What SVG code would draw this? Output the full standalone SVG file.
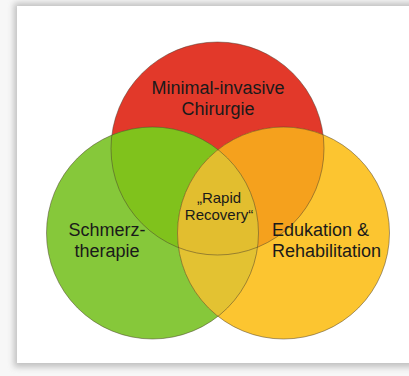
<svg xmlns="http://www.w3.org/2000/svg" width="409" height="376" viewBox="0 0 409 376">
  <style>
    .lbl { font-family: "Liberation Sans", Arial, sans-serif; font-size: 18px; fill: #1a1a1a; }
    .core { font-family: "Liberation Sans", Arial, sans-serif; font-size: 15px; fill: #1a1a1a; text-anchor: middle; }
    .ring { fill: none; stroke: #4a3d2c; stroke-width: 0.9; }
  </style>
  <defs>
    <filter id="shadow" x="-10%" y="-10%" width="120%" height="120%">
      <feGaussianBlur stdDeviation="3"/>
    </filter>
    <clipPath id="clipRed"><circle cx="217.5" cy="148.5" r="106.5"/></clipPath>
    <clipPath id="clipGreen"><circle cx="152.5" cy="233" r="106"/></clipPath>
    <clipPath id="clipYellow"><circle cx="283.5" cy="233" r="106"/></clipPath>
  </defs>

  <!-- page and card -->
  <rect width="409" height="376" fill="#f7f7f7"/>
  <rect x="14" y="3" width="420" height="364" fill="#9a9a9a" filter="url(#shadow)" opacity="0.6"/>
  <rect x="17" y="6" width="400" height="357" fill="#ffffff"/>

  <!-- circles -->
  <g id="node-chirurgie">
    <circle cx="217.5" cy="148.5" r="106.5" fill="#e2392a"/>
  </g>
  <g id="node-schmerztherapie">
    <circle cx="152.5" cy="233" r="106" fill="#86c83a"/>
  </g>
  <g id="node-edukation">
    <circle cx="283.5" cy="233" r="106" fill="#fcc530"/>
  </g>

  <!-- overlap regions -->
  <g id="overlaps">
    <circle cx="217.5" cy="148.5" r="106.5" fill="#80c21c" clip-path="url(#clipGreen)"/>
    <circle cx="283.5" cy="233" r="106" fill="#f5a11d" clip-path="url(#clipRed)"/>
    <circle cx="283.5" cy="233" r="106" fill="#e3c232" clip-path="url(#clipGreen)"/>
    <g clip-path="url(#clipYellow)">
      <circle cx="217.5" cy="148.5" r="106.5" fill="#e2be2f" clip-path="url(#clipGreen)"/>
    </g>
  </g>

  <!-- outlines -->
  <g id="outlines">
    <circle class="ring" cx="217.5" cy="148.5" r="106.5" stroke-opacity="0.55"/>
    <circle class="ring" cx="152.5" cy="233" r="106" stroke-opacity="0.55"/>
    <circle class="ring" cx="283.5" cy="233" r="106" stroke-opacity="0.55"/>
  </g>

  <!-- labels -->
  <g id="label-chirurgie">
    <text class="lbl" x="218" y="94" text-anchor="middle">Minimal-invasive</text>
    <text class="lbl" x="218" y="115" text-anchor="middle">Chirurgie</text>
  </g>
  <g id="label-schmerz">
    <text class="lbl" x="107" y="236" text-anchor="middle">Schmerz-</text>
    <text class="lbl" x="107" y="257" text-anchor="middle">therapie</text>
  </g>
  <g id="label-edukation">
    <text class="lbl" x="272" y="236">Edukation &amp;</text>
    <text class="lbl" x="272" y="257">Rehabilitation</text>
  </g>
  <g id="label-core">
    <text class="core" x="219" y="203">„Rapid</text>
    <text class="core" x="219" y="220">Recovery“</text>
  </g>
</svg>
